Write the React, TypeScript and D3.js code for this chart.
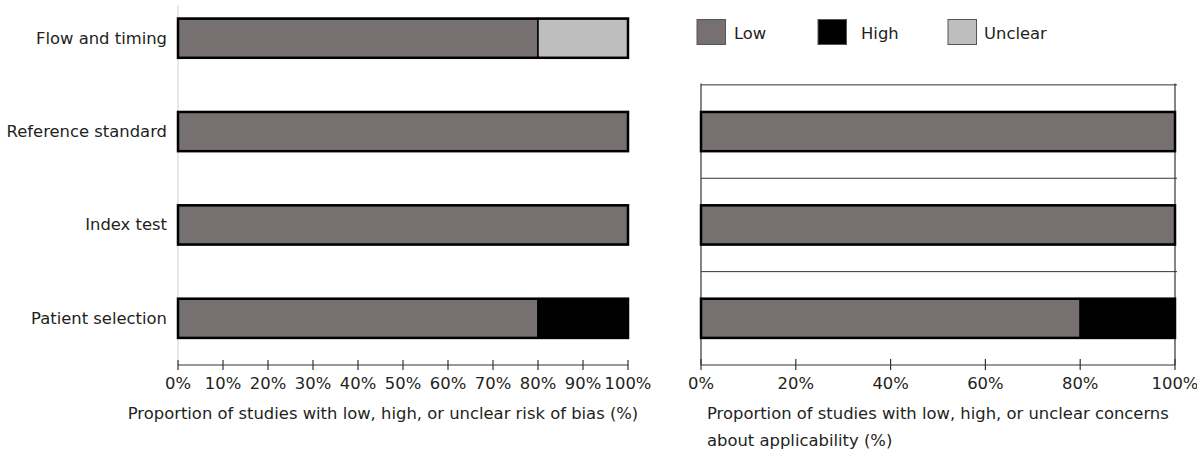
import React from "react";
import * as d3 from "d3";

const categories = ["Flow and timing", "Reference standard", "Index test", "Patient selection"];
const riskLow = [80, 100, 100, 80];
const riskHigh = [0, 0, 0, 20];
const riskUnclear = [20, 0, 0, 0];
const appCategories = ["Reference standard", "Index test", "Patient selection"];
const appLow = [100, 100, 80];
const appHigh = [0, 0, 20];
const appUnclear = [0, 0, 0];
const leftTicks = [0, 10, 20, 30, 40, 50, 60, 70, 80, 90, 100];
const rightTicks = [0, 20, 40, 60, 80, 100];
const legendLabels = ["Low", "High", "Unclear"];

const COLORS = ["#767170", "#000000", "#bebebe"];
const FONT = "DejaVu Sans, Verdana, sans-serif";
const TEXT = "#231f20";
const FS = 16.4;

export default function App() {
  const W = 1197, H = 452;
  const y = d3.scaleBand().domain(categories).range([-8.5, 365]).paddingInner(0.58).paddingOuter(0.29);
  const rowY = d3.scaleBand().domain(categories).range([-8.5, 365]);
  const xL = d3.scaleLinear().domain([0, 100]).range([178, 628]);
  const xR = d3.scaleLinear().domain([0, 100]).range([701, 1175]);
  const axisY = 365;

  const stack = (lows: number[], highs: number[], uncl: number[], i: number) => {
    const segs = [lows[i], highs[i], uncl[i]];
    let acc = 0;
    return segs.map((v, k) => {
      const s = { x0: acc, x1: acc + v, k };
      acc += v;
      return s;
    });
  };

  return (
    <svg width={W} height={H} style={{ position: "absolute", left: 0, top: 0, background: "#fff" }} fontFamily={FONT}>
      {/* Left panel */}
      <line x1={178} x2={178} y1={5} y2={axisY} stroke="#d0d0d0" strokeWidth={1} />
      {categories.map((c, i) => {
        const by = y(c)!;
        const bh = y.bandwidth();
        return (
          <g key={c}>
            <text x={167} y={rowY(c)! + rowY.bandwidth() / 2} textAnchor="end" dominantBaseline="central" fontSize={FS} fill={TEXT}>{c}</text>
            {stack(riskLow, riskHigh, riskUnclear, i).filter(s => s.x1 > s.x0).map(s => (
              <rect key={s.k} x={xL(s.x0)} y={by} width={xL(s.x1) - xL(s.x0)} height={bh} fill={COLORS[s.k]} stroke="#000" strokeWidth={1.5} />
            ))}
            <rect x={xL(0)} y={by} width={xL(100) - xL(0)} height={bh} fill="none" stroke="#000" strokeWidth={2.5} />
          </g>
        );
      })}
      <line x1={xL(0)} x2={xL(100)} y1={axisY} y2={axisY} stroke="#333" strokeWidth={1.2} />
      {leftTicks.map(t => (
        <g key={t}>
          <line x1={xL(t)} x2={xL(t)} y1={axisY - 5} y2={axisY + 5} stroke="#333" strokeWidth={1.2} />
          <text x={xL(t)} y={383} textAnchor="middle" dominantBaseline="central" fontSize={FS} fill={TEXT}>{t}%</text>
        </g>
      ))}
      <text x={383} y={413} textAnchor="middle" dominantBaseline="central" fontSize={FS} fill={TEXT}>
        Proportion of studies with low, high, or unclear risk of bias (%)
      </text>

      {/* Legend */}
      {legendLabels.map((l, k) => {
        const lx = [697, 818, 948][k];
        const tx = [734, 861, 984][k];
        return (
          <g key={l}>
            <rect x={lx} y={19.5} width={28.5} height={25} fill={COLORS[k]} stroke="#555" strokeWidth={1} />
            <text x={tx} y={33} dominantBaseline="central" fontSize={FS} fill={TEXT}>{l}</text>
          </g>
        );
      })}

      {/* Right panel */}
      {appCategories.map((c, i) => (
        <line key={i} x1={xR(0)} x2={xR(100) + 2} y1={rowY(c)!} y2={rowY(c)!} stroke="#333" strokeWidth={1} />
      ))}
      <line x1={xR(0)} x2={xR(0)} y1={rowY(appCategories[0])! - 1.5} y2={axisY} stroke="#333" strokeWidth={1.2} />
      <line x1={xR(100)} x2={xR(100)} y1={rowY(appCategories[0])! - 1.5} y2={axisY} stroke="#333" strokeWidth={1.2} />
      {appCategories.map((c, i) => {
        const by = y(c)!;
        const bh = y.bandwidth();
        return (
          <g key={c}>
            {stack(appLow, appHigh, appUnclear, i).filter(s => s.x1 > s.x0).map(s => (
              <rect key={s.k} x={xR(s.x0)} y={by} width={xR(s.x1) - xR(s.x0)} height={bh} fill={COLORS[s.k]} stroke="#000" strokeWidth={1.5} />
            ))}
            <rect x={xR(0)} y={by} width={xR(100) - xR(0)} height={bh} fill="none" stroke="#000" strokeWidth={2.5} />
          </g>
        );
      })}
      <line x1={xR(0)} x2={xR(100)} y1={axisY} y2={axisY} stroke="#333" strokeWidth={1.2} />
      {rightTicks.map(t => (
        <g key={t}>
          <line x1={xR(t)} x2={xR(t)} y1={axisY - 6} y2={axisY + 5} stroke="#333" strokeWidth={1.2} />
          <text x={xR(t)} y={383} textAnchor="middle" dominantBaseline="central" fontSize={FS} fill={TEXT}>{t}%</text>
        </g>
      ))}
      <text x={707} y={413} dominantBaseline="central" fontSize={FS} fill={TEXT}>
        Proportion of studies with low, high, or unclear concerns
      </text>
      <text x={707} y={440} dominantBaseline="central" fontSize={FS} fill={TEXT}>
        about applicability (%)
      </text>
    </svg>
  );
}
